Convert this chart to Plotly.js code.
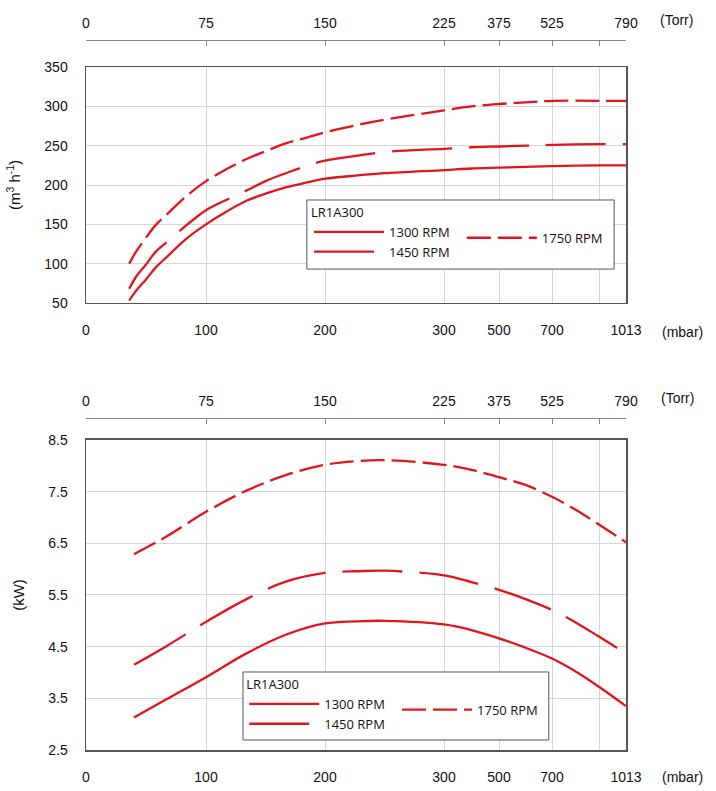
<!DOCTYPE html>
<html>
<head>
<meta charset="utf-8">
<script src="https://cdn.plot.ly/plotly-3.0.1.min.js"></script>
<style>
  html, body { margin: 0; padding: 0; background: #fff; }
  #plt { width: 716px; height: 791px; }
</style>
</head>
<body>
<div id="plt"></div>
<script>
// tick labels
var mbarTicks = [0, 100, 200, 300, 500, 700, 1013];
var mbarText = ['0', '100', '200', '300', '500', '700', '1013'];
var torrText = ['0', '75', '150', '225', '375', '525', '790'];
var extraGrid = [900];

// pumping speed (m3/h) vs pressure (mbar)
var flowX = [36, 42, 50, 58, 67, 83, 100, 117, 134, 150, 167, 184, 200, 226, 250, 300, 400, 500, 600, 700, 900, 1013];
var flow1300 = [53, 66, 80, 95, 108, 131, 150, 166, 180, 189, 197, 203, 208, 212, 215, 219, 221, 222, 223, 224, 225, 225];
var flow1450 = [68, 84, 99, 115, 127, 148, 168, 181, 193, 205, 215, 224, 231, 237, 242, 246, 248, 249, 250, 251, 252, 252];
var flow1750 = [100, 116, 133, 149, 162, 185, 205, 220, 233, 243, 253, 260, 267, 276, 283, 295, 300, 303, 305, 307, 307, 307];

// power (kW) vs pressure (mbar)
var powerX = [40, 67, 100, 134, 167, 200, 226, 250, 300, 400, 500, 600, 700, 800, 900, 1013];
var power1300 = [3.13, 3.48, 3.91, 4.37, 4.73, 4.95, 4.99, 5.00, 4.93, 4.82, 4.66, 4.48, 4.27, 4.02, 3.72, 3.35];
var power1450 = [4.15, 4.51, 4.98, 5.42, 5.76, 5.93, 5.96, 5.97, 5.88, 5.75, 5.60, 5.42, 5.21, 4.97, 4.69, 4.37];
var power1750 = [6.29, 6.63, 7.11, 7.52, 7.82, 8.02, 8.09, 8.11, 8.02, 7.92, 7.78, 7.63, 7.40, 7.15, 6.86, 6.52];

var seriesNames = ['1300 RPM', '1450 RPM', '1750 RPM'];

// the pressure axis is not linear: piecewise scale between labelled pressures
var scaleFrom = [0, 100, 200, 300, 500, 700, 1013];
var scaleTo = [0, 120, 239, 358, 413, 466, 540];

function pscale(v){
    for (let i = 1; i < scaleFrom.length; i++) {
        if (v <= scaleFrom[i]) {
            let t = (v - scaleFrom[i - 1]) / (scaleFrom[i] - scaleFrom[i - 1]);
            return scaleTo[i - 1] + t * (scaleTo[i] - scaleTo[i - 1]);
        }
    }
    return scaleTo[scaleTo.length - 1];
}

var red = '#e3151c';
var dashes = ['solid', '60px,17px', '24px,7px'];
var tickFont = {family: 'Liberation Sans, Arial, sans-serif', size: 14, color: '#111'};
var legFont = {family: 'Open Sans, sans-serif', size: 13, color: '#111'};

function curve(xs, ys, k, xa, ya, leg){
    return {
        type: 'scatter',
        mode: 'lines',
        name: seriesNames[k],
        x: xs.map(pscale),
        y: ys,
        xaxis: xa,
        yaxis: ya,
        legend: leg,
        line: {color: red, width: 2.3, dash: dashes[k], shape: 'spline', smoothing: 1},
        hoverinfo: 'skip'
    };
}

function mbarAxis(anchor){
    return {
        anchor: anchor,
        range: [0, 540],
        tickmode: 'array',
        tickvals: mbarTicks.map(pscale),
        ticktext: mbarText,
        ticks: '',
        ticklabelstandoff: 14,
        tickfont: tickFont,
        showgrid: true,
        gridcolor: '#d6d6d6',
        gridwidth: 1,
        minor: {tickmode: 'array', tickvals: extraGrid.map(pscale), showgrid: true, gridcolor: '#d6d6d6', gridwidth: 1, ticks: ''},
        zeroline: false,
        showline: true,
        linecolor: '#555',
        linewidth: 1.5,
        mirror: true,
        automargin: false,
        fixedrange: true
    };
}

function torrAxis(over, pos){
    return {
        overlaying: over,
        anchor: 'free',
        position: pos,
        side: 'top',
        range: [0, 540],
        tickmode: 'array',
        tickvals: mbarTicks.map(pscale),
        ticktext: torrText,
        ticks: 'inside',
        ticklen: 5,
        tickcolor: '#888',
        tickwidth: 1,
        minor: {tickmode: 'array', tickvals: extraGrid.map(pscale), ticks: 'inside', ticklen: 5, tickcolor: '#888', tickwidth: 1, showgrid: false},
        ticklabelstandoff: 6,
        tickfont: tickFont,
        showgrid: false,
        zeroline: false,
        showline: true,
        linecolor: '#888',
        linewidth: 1.2,
        automargin: false,
        fixedrange: true
    };
}

function valAxis(anchor, dom, rng, vals, title){
    return {
        anchor: anchor,
        domain: dom,
        range: rng,
        tickmode: 'array',
        tickvals: vals,
        ticktext: vals.map(String),
        ticks: '',
        ticklabelstandoff: 14,
        tickfont: tickFont,
        showgrid: true,
        gridcolor: '#d6d6d6',
        zeroline: false,
        showline: true,
        linecolor: '#555',
        linewidth: 1.5,
        mirror: true,
        automargin: false,
        fixedrange: true,
        title: {text: title, font: {family: 'Liberation Sans, Arial, sans-serif', size: 15, color: '#111'}, standoff: 20}
    };
}

function legendAt(x, y, title){
    let lg = {
        x: x, y: y, xanchor: 'left', yanchor: 'top',
        orientation: 'v',
        bgcolor: 'rgba(0,0,0,0)',
        borderwidth: 0,
        itemwidth: 70,
        font: legFont,
        tracegroupgap: 0
    };
    if (title) lg.title = {text: title, font: legFont};
    return lg;
}

function frame(x0, x1, y0, y1){
    return {
        type: 'rect', xref: 'paper', yref: 'paper',
        x0: x0, x1: x1, y0: y0, y1: y1,
        fillcolor: '#fff',
        line: {color: '#555', width: 1},
        layer: 'above'
    };
}

function plot(){
    let gd = document.getElementById('plt');

    // the 1750 curves sit on the Torr axes, which share the mbar scale
    let d = [
        curve(flowX, flow1300, 0, 'x', 'y', 'legend'),
        curve(flowX, flow1450, 1, 'x', 'y', 'legend'),
        curve(flowX, flow1750, 2, 'x2', 'y', 'legend2'),
        curve(powerX, power1300, 0, 'x3', 'y2', 'legend3'),
        curve(powerX, power1450, 1, 'x3', 'y2', 'legend3'),
        curve(powerX, power1750, 2, 'x4', 'y2', 'legend4')
    ];

    let unitFont = {family: 'Liberation Sans, Arial, sans-serif', size: 14, color: '#111'};
    let note = (txt, x, y) => ({
        text: txt, xref: 'paper', yref: 'paper', x: x, y: y,
        xanchor: 'center', yanchor: 'middle', showarrow: false, font: unitFont
    });

    let l = {
        width: 716,
        height: 791,
        margin: {l: 86, r: 90, t: 10, b: 10},
        paper_bgcolor: '#fff',
        plot_bgcolor: '#fff',
        showlegend: true,
        xaxis: mbarAxis('y'),
        xaxis2: torrAxis('x', 0.961),
        yaxis: valAxis('x', [0.620, 0.926], [50, 350], [50, 100, 150, 200, 250, 300, 350], '(m<sup>3</sup> h<sup>-1</sup>)'),
        xaxis3: mbarAxis('y2'),
        xaxis4: torrAxis('x3', 0.4708),
        yaxis2: valAxis('x3', [0.0402, 0.4423], [2.5, 8.5], [2.5, 3.5, 4.5, 5.5, 6.5, 7.5, 8.5], '(kW)'),
        legend: legendAt(0.413, 0.7536, 'LR1A300'),
        legend2: legendAt(0.696, 0.724),
        legend3: legendAt(0.293, 0.1414, 'LR1A300'),
        legend4: legendAt(0.576, 0.112),
        shapes: [
            frame(0.409, 0.978, 0.664, 0.7536),
            frame(0.2907, 0.857, 0.0532, 0.1414)
        ],
        annotations: [
            note('(Torr)', 1.094, 0.987),
            note('(mbar)', 1.105, 0.582),
            note('(Torr)', 1.096, 0.497),
            note('(mbar)', 1.105, 0.005)
        ]
    };
    let c = {
        displayModeBar: false,
        staticPlot: true
    };

    Plotly.newPlot(gd, d, l, c);
}

plot();
</script>
</body>
</html>
